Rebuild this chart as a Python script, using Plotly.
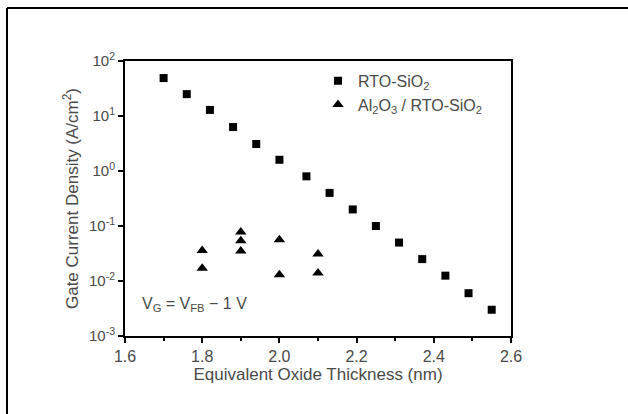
import plotly.graph_objects as go

# Data
rto_x = [1.70, 1.76, 1.82, 1.88, 1.94, 2.00, 2.07, 2.13, 2.19, 2.25, 2.31, 2.37, 2.43, 2.49, 2.55]
rto_y = [49, 25, 12.9, 6.3, 3.1, 1.6, 0.8, 0.4, 0.2, 0.1, 0.05, 0.025, 0.0125, 0.006, 0.003]

al_x = [1.8, 1.8, 1.9, 1.9, 1.9, 2.0, 2.0, 2.1, 2.1]
al_y = [0.036, 0.017, 0.078, 0.054, 0.035, 0.056, 0.013, 0.031, 0.014]

y_tickvals = [1e-3, 1e-2, 1e-1, 1e0, 1e1, 1e2]
y_ticktext = ["10<sup>-3</sup>", "10<sup>-2</sup>", "10<sup>-1</sup>", "10<sup>0</sup>",
              "10<sup>1</sup>", "10<sup>2</sup>"]
x_tickvals = [1.6, 1.8, 2.0, 2.2, 2.4, 2.6]
x_ticktext = ["1.6", "1.8", "2.0", "2.2", "2.4", "2.6"]

FONT = "Liberation Sans, Arial, sans-serif"
TXT = "#4a4a4a"

fig = go.Figure()
fig.add_trace(go.Scatter(x=rto_x, y=rto_y, mode="markers", name="RTO-SiO<sub>2</sub>",
                         marker=dict(symbol="square", size=8, color="black")))
fig.add_trace(go.Scatter(x=al_x, y=al_y, mode="markers", name="Al<sub>2</sub>O<sub>3</sub> / RTO-SiO<sub>2</sub>",
                         marker=dict(symbol="triangle-up", size=10, color="black")))

fig.update_layout(
    width=628, height=414,
    margin=dict(l=125, r=117, t=61, b=78),
    paper_bgcolor="white", plot_bgcolor="white",
    font=dict(family=FONT, size=16, color=TXT),
    showlegend=True,
    legend=dict(x=0.5, y=0.99, xanchor="left", yanchor="top", bgcolor="rgba(0,0,0,0)",
                font=dict(size=16, color=TXT)),
    xaxis=dict(range=[1.6, 2.6], tickvals=x_tickvals, ticktext=x_ticktext,
               showline=True, linecolor="black", linewidth=2, mirror=True,
               ticks="outside", ticklen=5, tickwidth=2, tickcolor="black",
               minor=dict(tickvals=[1.7, 1.9, 2.1, 2.3, 2.5], ticks="outside", ticklen=3,
                          tickwidth=1.5, tickcolor="black"),
               showgrid=False, zeroline=False,
               title=dict(text="Equivalent Oxide Thickness (nm)", font=dict(size=17, color=TXT), standoff=4),
               tickfont=dict(size=16, color=TXT)),
    yaxis=dict(type="log", range=[-3, 2], tickvals=y_tickvals, ticktext=y_ticktext,
               showline=True, linecolor="black", linewidth=2, mirror=True,
               ticks="outside", ticklen=5, tickwidth=2, tickcolor="black",
               showgrid=False, zeroline=False,
               title=dict(text="Gate Current Density (A/cm<sup>2</sup>)", font=dict(size=17, color=TXT), standoff=6),
               tickfont=dict(size=15, color=TXT)),
)

fig.add_annotation(x=0.04, y=0.115, xref="paper", yref="paper", xanchor="left", yanchor="middle",
                   text="V<sub>G</sub> = V<sub>FB</sub> − 1 V", showarrow=False,
                   font=dict(size=16, color=TXT))

# Outer frame (top and left edges visible)
x0 = (7 - 125) / 386
y0 = (336 - 8) / 275
fig.add_shape(type="line", xref="paper", yref="paper", x0=x0, x1=2.0, y0=y0, y1=y0,
              line=dict(color="black", width=2))
fig.add_shape(type="line", xref="paper", yref="paper", x0=x0, x1=x0, y0=y0, y1=-1.0,
              line=dict(color="black", width=2))

fig.write_html("out.html")
